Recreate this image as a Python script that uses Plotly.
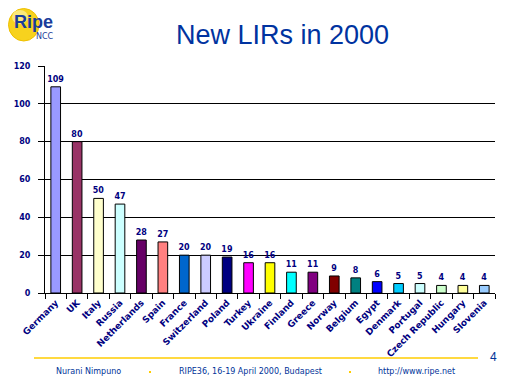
import plotly.graph_objects as go

countries = ["Germany", "UK", "Italy", "Russia", "Netherlands", "Spain", "France",
             "Switzerland", "Poland", "Turkey", "Ukraine", "Finland", "Greece",
             "Norway", "Belgium", "Egypt", "Denmark", "Portugal", "Czech Republic",
             "Hungary", "Slovenia"]
new_lirs = [109, 80, 50, 47, 28, 27, 20, 20, 19, 16, 16, 11, 11, 9, 8, 6, 5, 5, 4, 4, 4]
bar_colors = ["#9999FF", "#993366", "#FFFFCC", "#CCFFFF", "#660066", "#FF8080", "#0066CC",
              "#CCCCFF", "#000080", "#FF00FF", "#FFFF00", "#00FFFF", "#800080",
              "#800000", "#008080", "#0000FF", "#00CCFF", "#CCFFFF", "#CCFFCC",
              "#FFFF99", "#99CCFF"]
y_ticks = [0, 20, 40, 60, 80, 100, 120]

W, H = 512, 384
OFF = 8  # page body margin offset
L, R, T, B = 45 - OFF, 495 - OFF, 66 - OFF, 293 - OFF


def px(x):
    return (x - OFF - L) / (R - L)


def py(y):
    return (B - (y - OFF)) / (B - T)


NAVY = "#000080"
fnt = "DejaVu Sans"

fig = go.Figure(go.Bar(
    x=countries, y=new_lirs,
    marker=dict(color=bar_colors, line=dict(color="black", width=1)),
    text=[str(v) for v in new_lirs], textposition="outside",
    textfont=dict(family=fnt, size=8, color=NAVY, weight="bold"),
    cliponaxis=False, constraintext="none", width=0.45,
))

fig.update_layout(
    width=W, height=H,
    margin=dict(l=L, r=W - R, t=T, b=H - B, autoexpand=False),
    paper_bgcolor="white", plot_bgcolor="white",
    showlegend=False,
    uniformtext=dict(minsize=8, mode="show"),
    xaxis=dict(type="category", showline=True, linecolor="black", linewidth=1,
               ticks="outside", tickson="boundaries", ticklen=5, tickcolor="black",
               tickangle=-45, automargin=False,
               tickfont=dict(family=fnt, size=9, color=NAVY, weight="bold"),
               showgrid=False, fixedrange=True),
    yaxis=dict(range=[0, 120], tickvals=y_ticks, showline=True, linecolor="black",
               linewidth=1, ticks="outside", ticklen=6, tickcolor="black",
               showgrid=True, gridcolor="black", gridwidth=1, zeroline=False,
               automargin=False,
               tickfont=dict(family=fnt, size=8, color=NAVY, weight="bold"),
               ticklabelstandoff=6, fixedrange=True),
)

shapes = [
    # logo sphere
    dict(type="circle", xref="paper", yref="paper",
         x0=px(8.5), x1=px(39), y0=py(41), y1=py(8.5),
         fillcolor="#F7D21E", line=dict(color="#EFC000", width=1), layer="below"),
    dict(type="circle", xref="paper", yref="paper",
         x0=px(12), x1=px(28), y0=py(24), y1=py(10),
         fillcolor="#FCE97A", line=dict(width=0), layer="below"),
    # footer line
    dict(type="line", xref="paper", yref="paper",
         x0=px(34), x1=px(478), y0=py(358), y1=py(358),
         line=dict(color="#FFCC00", width=1.5)),
    # footer dots
    dict(type="rect", xref="paper", yref="paper",
         x0=px(149), x1=px(151), y0=py(373), y1=py(371),
         fillcolor="#FFCC00", line=dict(width=0)),
    dict(type="rect", xref="paper", yref="paper",
         x0=px(349), x1=px(351), y0=py(373), y1=py(371),
         fillcolor="#FFCC00", line=dict(width=0)),
]


def note(text, x, y, size, family=fnt, color="#003399", xanchor="center"):
    return dict(text=text, x=px(x), y=py(y), xref="paper", yref="paper",
                xanchor=xanchor, yanchor="middle", showarrow=False,
                font=dict(family=family, size=size, color=color))


annotations = [
    note("New LIRs in 2000", 282, 35, 27, "Liberation Sans", "#0033A0"),
    note("<b>Ripe</b>", 12, 22, 18, "Liberation Sans", "#1A3C9A", "left"),
    note("NCC", 34, 36, 8, "DejaVu Sans", "#1A3C9A", "left"),
    note("Nurani Nimpuno", 88, 371, 8),
    note("RIPE36, 16-19 April 2000, Budapest", 250, 371, 8),
    note("http://www.ripe.net", 416, 371, 8),
    note("4", 493, 357, 12, "Liberation Sans"),
]

fig.update_layout(shapes=shapes, annotations=annotations)
fig.write_html("out.html")
